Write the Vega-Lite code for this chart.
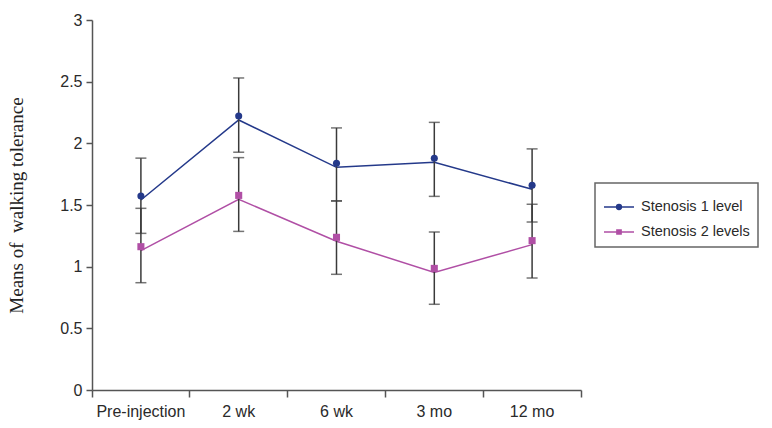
{
  "$schema": "https://vega.github.io/schema/vega-lite/v6.json",
  "autosize": {"type": "none"},
  "padding": {"left": 92, "top": 20, "right": 191, "bottom": 38},
  "width": 489,
  "height": 370,
  "background": "white",
  "data": {
    "values": [
      {"time": "Pre-injection", "group": "Stenosis 1 level", "mean": 1.573, "lo": 1.27, "hi": 1.88},
      {"time": "2 wk", "group": "Stenosis 1 level", "mean": 2.222, "lo": 1.928, "hi": 2.53},
      {"time": "6 wk", "group": "Stenosis 1 level", "mean": 1.838, "lo": 1.533, "hi": 2.125},
      {"time": "3 mo", "group": "Stenosis 1 level", "mean": 1.879, "lo": 1.57, "hi": 2.17},
      {"time": "12 mo", "group": "Stenosis 1 level", "mean": 1.66, "lo": 1.362, "hi": 1.955},
      {"time": "Pre-injection", "group": "Stenosis 2 levels", "mean": 1.162, "lo": 0.87, "hi": 1.473},
      {"time": "2 wk", "group": "Stenosis 2 levels", "mean": 1.578, "lo": 1.286, "hi": 1.884},
      {"time": "6 wk", "group": "Stenosis 2 levels", "mean": 1.238, "lo": 0.938, "hi": 1.533},
      {"time": "3 mo", "group": "Stenosis 2 levels", "mean": 0.986, "lo": 0.695, "hi": 1.281},
      {"time": "12 mo", "group": "Stenosis 2 levels", "mean": 1.211, "lo": 0.908, "hi": 1.506}
    ]
  },
  "config": {"view": {"stroke": null}},
  "encoding": {
    "x": {
      "field": "time",
      "type": "nominal",
      "sort": ["Pre-injection", "2 wk", "6 wk", "3 mo", "12 mo"],
      "scale": {"paddingInner": 0, "paddingOuter": 0},
      "title": null,
      "axis": {
        "labelAngle": 0,
        "bandPosition": 1,
        "tickExtra": true,
        "labelFont": "Liberation Sans",
        "labelFontSize": 16,
        "labelColor": "#2a2a2a",
        "labelPadding": 6,
        "domainColor": "#555555",
        "domainWidth": 1.5,
        "tickColor": "#555555",
        "tickWidth": 1.5,
        "tickSize": 7
      }
    },
    "y": {
      "field": "mean",
      "type": "quantitative",
      "scale": {"domain": [0, 3], "nice": false},
      "title": "Means of\u00a0\u00a0walking tolerance",
      "axis": {
        "values": [0, 0.5, 1, 1.5, 2, 2.5, 3],
        "format": "~g",
        "grid": false,
        "labelFont": "Liberation Sans",
        "labelFontSize": 16,
        "labelColor": "#2a2a2a",
        "labelPadding": 4,
        "domainColor": "#555555",
        "domainWidth": 1.5,
        "tickColor": "#555555",
        "tickWidth": 1.5,
        "tickSize": 6,
        "titleFont": "Liberation Serif",
        "titleFontSize": 19,
        "titleFontWeight": "normal",
        "titleColor": "#222222",
        "titlePadding": 33
      }
    }
  },
  "layer": [
    {
      "mark": {"type": "line", "strokeWidth": 1.5, "yOffset": 4},
      "encoding": {
        "color": {"field": "group", "type": "nominal",
          "scale": {"domain": ["Stenosis 1 level", "Stenosis 2 levels"], "range": ["#24398a", "#b04fa5"]},
          "legend": {
            "title": null,
            "orient": "none",
            "legendX": 503,
            "legendY": 163,
            "strokeColor": "#666666",
            "padding": 8,
            "labelFont": "Liberation Sans",
            "labelFontSize": 14.5,
            "labelColor": "#2a2a2a",
            "labelOffset": 6,
            "rowPadding": 2,
            "symbolSize": 900,
            "symbolType": "M-1,0L1,0M-0.16,0A0.16,0.16 0 1,1 0.16,0A0.16,0.16 0 1,1 -0.16,0Z",
            "encode": {
              "legend": {"update": {"strokeWidth": {"value": 1.5}}},
              "symbols": {
                "update": {
                  "shape": {"signal": "datum.value === 'Stenosis 1 level' ? 'M-1,0L1,0M-0.16,0A0.16,0.16 0 1,1 0.16,0A0.16,0.16 0 1,1 -0.16,0Z' : 'M-1,0L1,0M-0.14,-0.14L0.14,-0.14L0.14,0.14L-0.14,0.14Z'"},
                  "fill": {"scale": "color", "field": "value"},
                  "stroke": {"scale": "color", "field": "value"},
                  "strokeWidth": {"value": 1.5},
                  "fillOpacity": {"value": 1},
                  "strokeOpacity": {"value": 1}
                }
              }
            }
          }
        }
      }
    },
    {
      "mark": {"type": "rule", "color": "#3a3a3a", "strokeWidth": 1.5},
      "encoding": {
        "y": {"field": "lo", "type": "quantitative"},
        "y2": {"field": "hi"}
      }
    },
    {
      "mark": {"type": "tick", "color": "#3a3a3a", "thickness": 1.5, "size": 11},
      "encoding": {"y": {"field": "lo", "type": "quantitative"}}
    },
    {
      "mark": {"type": "tick", "color": "#3a3a3a", "thickness": 1.5, "size": 11},
      "encoding": {"y": {"field": "hi", "type": "quantitative"}}
    },
    {
      "transform": [{"filter": "datum.group === 'Stenosis 1 level'"}],
      "mark": {"type": "point", "shape": "circle", "filled": true, "opacity": 1, "size": 50},
      "encoding": {
        "color": {"field": "group", "type": "nominal"}
      }
    },
    {
      "transform": [{"filter": "datum.group === 'Stenosis 2 levels'"}],
      "mark": {"type": "point", "shape": "square", "filled": true, "opacity": 1, "size": 50},
      "encoding": {
        "color": {"field": "group", "type": "nominal"}
      }
    }
  ]
}
